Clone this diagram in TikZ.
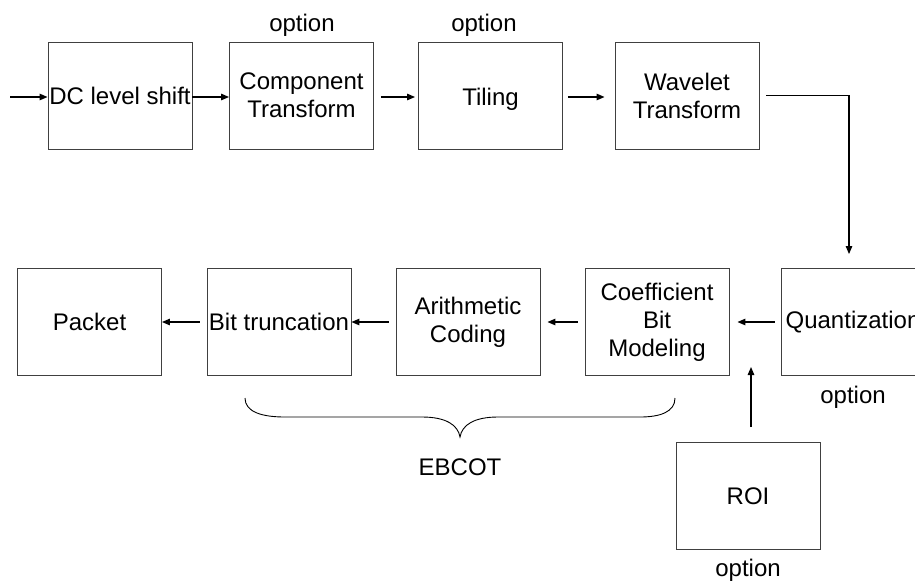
\documentclass[tikz,border=0pt]{standalone}
\usepackage{fontspec}
\setmainfont{Liberation Sans}
\usetikzlibrary{arrows.meta}
\begin{document}
\begin{tikzpicture}[x=1pt,y=-1pt,
  every node/.style={font=\fontsize{24}{28}\selectfont, inner sep=0pt},
  blk/.style={draw=black!75, line width=0.9pt, minimum width=144pt, minimum height=107pt, align=center},
  arr/.style={line width=1.2pt, -{Triangle[length=8pt,width=6.5pt]}},
  conn/.style={line width=0.9pt}]
\useasboundingbox (0,0) rectangle (915,581);

% top row
\node[blk] (dc)   at (120,95.5)   {DC level shift};
\node[blk] (comp) at (301.5,95.5) {Component\\Transform};
\node[blk, text height=19pt, text depth=0pt] (til) at (490.5,95.5) {Tiling};
\node[blk] (wav)  at (687,95.5)   {Wavelet\\Transform};

% bottom row
\node[blk] (quant) at (853,322)  {Quantization};
\node[blk] (coef)  at (657,322)  {Coefficient\\Bit\\Modeling};
\node[blk] (arith) at (468,322)  {Arithmetic\\Coding};
\node[blk] (bitt)  at (279,322)  {Bit truncation};
\node[blk] (pack)  at (89.5,322) {Packet};
\node[blk] (roi)   at (748,496)  {ROI};

% labels
\node (o1) at (302,25)  {option};
\node (o2) at (484,25)  {option};
\node (o3) at (853,397) {option};
\node (o4) at (748,570) {option};
\node (eb) at (460,467) {EBCOT};

% connectors
\coordinate (in) at (10,97);
\draw[arr] (in) -- (dc.west |- in);
\draw[arr] (dc.east |- in) -- (comp.west |- in);
\draw[arr, shorten <=7pt, shorten >=3pt] (comp.east |- in) -- (til.west |- in);
\draw[arr, shorten <=5pt, shorten >=10pt] (til.east |- in) -- (wav.west |- in);

\coordinate (bend) at (849,95);
\draw[conn] ([xshift=7pt]wav.east |- bend) -- (bend);
\draw[arr] (bend) -- ([shift={(-4,-14)}]quant.north);

\draw[arr, shorten <=6pt, shorten >=8pt] (quant.west) -- (coef.east);
\draw[arr, shorten <=7pt, shorten >=7pt] (coef.west) -- (arith.east);
\draw[arr, shorten <=7pt] (arith.west) -- (bitt.east);
\draw[arr, shorten <=7pt] (bitt.west) -- (pack.east);

\coordinate (roitip) at (751,367);
\draw[arr] ([shift={(3,-15)}]roi.north) -- (roitip);

% brace under the EBCOT stages
\coordinate (bl) at (245,398);
\coordinate (bt) at (460,437);
\coordinate (br) at (675,398);
\draw[conn] (bl) .. controls (245,412) and (262,417) .. (285,417) -- (422,417)
  .. controls (446,417) and (458,425) .. (bt)
  .. controls (462,425) and (474,417) .. (498,417) -- (640,417)
  .. controls (660,417) and (675,412) .. (br);
\end{tikzpicture}
\end{document}
